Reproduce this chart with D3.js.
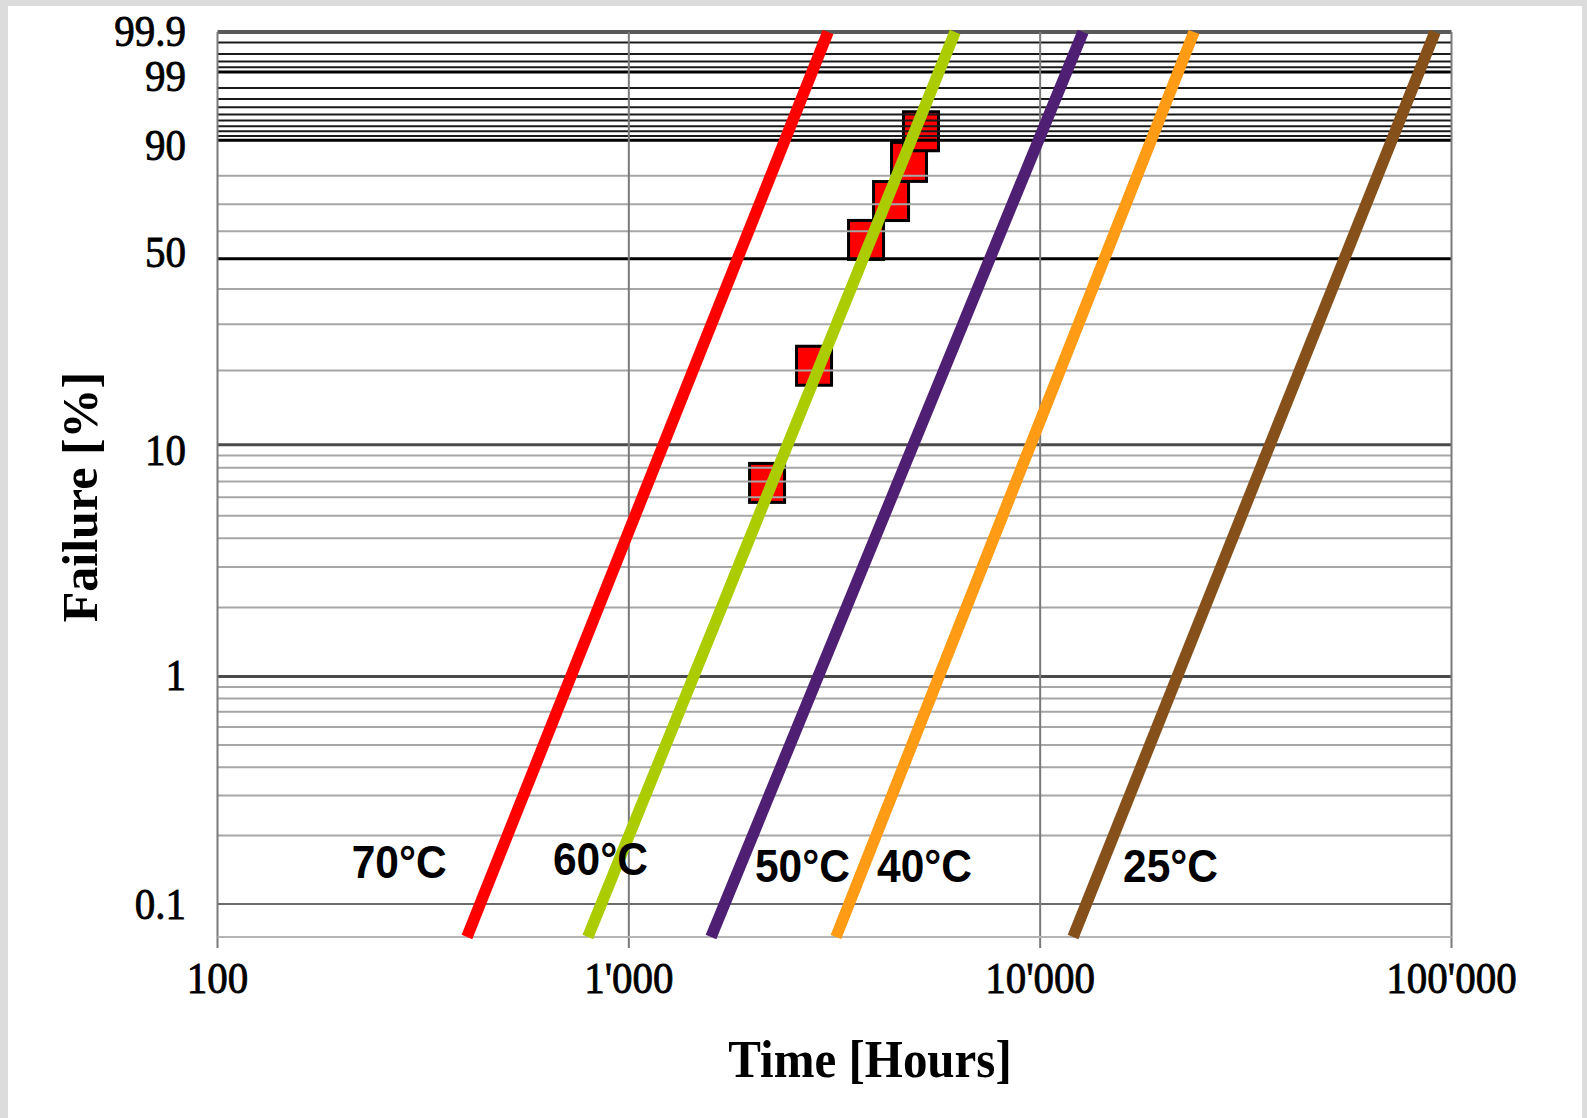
<!DOCTYPE html>
<html>
<head>
<meta charset="utf-8">
<script src="https://cdn.jsdelivr.net/npm/d3@7"></script>
<style>
  body { margin: 0; background: #dcdcdc; }
  svg { display: block; }
</style>
</head>
<body>
<div class="chart"></div>
<script>
// fitted Weibull lines: hours at the bottom edge (0.0716 %) and at 99.9 %
var seriesNames = ["70°C", "60°C", "50°C", "40°C", "25°C"];
var seriesColors = ["#ff0000", "#aacc00", "#4e1f72", "#ff9b14", "#85501a"];
var endPct = [0.0716, 99.9];
var hoursLow = [404, 795, 1584, 3188, 12020];
var hoursHigh = [3050, 6210, 12710, 23660, 91200];

// measured points (red squares)
var pointHours = [2168, 2820, 3773, 4340, 4799, 5132];
var pointPct = [6.9, 20.9, 56.8, 71.2, 84.3, 92.0];

// where the temperature labels start
var labelHours = [212, 654, 2026, 4012, 15900];
var labelPct = [0.130, 0.134, 0.125, 0.125, 0.125];

// axes
var xTicks = [100, 1000, 10000, 100000];
var xTickLabels = ["100", "1'000", "10'000", "100'000"];
var yTicks = [0.1, 1, 10, 50, 90, 99, 99.9];
var yTickLabels = ["0.1", "1", "10", "50", "90", "99", "99.9"];
var yMinor = [0.2, 0.3, 0.4, 0.5, 0.6, 0.7, 0.8, 0.9,
              2, 3, 4, 5, 6, 7, 8, 9,
              20, 30, 40, 60, 70, 80,
              91, 92, 93, 94, 95, 96, 97, 98,
              99.2, 99.4, 99.6, 99.8];

var W = 1587, H = 1118;
var pLeft = 217.5, pRight = 1451.5, pTop = 32, pBottom = 937;

var svg = d3.select(".chart").append("svg")
    .attr("width", W)
    .attr("height", H);

// white sheet inside the grey frame
svg.append("rect")
    .attr("x", 8).attr("y", 6)
    .attr("width", W - 13).attr("height", H - 6)
    .attr("fill", "#ffffff");

// Weibull probability paper: ln(-ln(1-F))
function weib(p) { return Math.log(-Math.log(1 - p / 100)); }

var x = d3.scaleLog().domain([100, 100000]).range([pLeft, pRight]);
var yW = d3.scaleLinear().domain([weib(endPct[0]), weib(99.9)]).range([pBottom, pTop]);
var y = function(p) { return yW(weib(p)); };

var plot = svg.append("g");

// squares go under the grid
plot.append("g").selectAll("rect")
    .data(pointHours)
    .enter().append("rect")
    .attr("x", function(d) { return x(d) - 17.5; })
    .attr("y", function(d, i) { return y(pointPct[i]) - 19.5; })
    .attr("width", 35)
    .attr("height", 39)
    .attr("fill", "#ff0000")
    .attr("stroke", "#000")
    .attr("stroke-width", 3);

// minor horizontal grid
plot.append("g").selectAll("line")
    .data(yMinor)
    .enter().append("line")
    .attr("x1", pLeft).attr("x2", pRight)
    .attr("y1", function(d) { return y(d); })
    .attr("y2", function(d) { return y(d); })
    .attr("stroke", function(d) { return d > 90 ? "#1a1a1a" : "#a6a6a6"; })
    .attr("stroke-width", 2);

// major horizontal grid
plot.append("g").selectAll("line")
    .data(yTicks)
    .enter().append("line")
    .attr("x1", pLeft).attr("x2", pRight)
    .attr("y1", function(d) { return y(d); })
    .attr("y2", function(d) { return y(d); })
    .attr("stroke", function(d) {
        if (d === 0.1) return "#6a6a6a";
        if (d === 1 || d === 10) return "#4a4a4a";
        if (d === 99.9) return "#5a5a5a";
        return "#000";
    })
    .attr("stroke-width", function(d) { return d === 0.1 ? 2 : (d === 99.9 ? 4 : 3); });

// vertical grid + ticks
plot.append("g").selectAll("line")
    .data(xTicks)
    .enter().append("line")
    .attr("x1", function(d) { return x(d); })
    .attr("x2", function(d) { return x(d); })
    .attr("y1", pTop)
    .attr("y2", pBottom + 11)
    .attr("stroke", "#7a7a7a")
    .attr("stroke-width", 2);

// bottom edge
plot.append("line")
    .attr("x1", pLeft).attr("x2", pRight)
    .attr("y1", pBottom).attr("y2", pBottom)
    .attr("stroke", "#b4b4b4")
    .attr("stroke-width", 2);

// series lines
var line = d3.line()
    .x(function(d) { return x(d.t); })
    .y(function(d) { return y(d.p); });

plot.append("g").selectAll("path")
    .data(seriesNames)
    .enter().append("path")
    .attr("d", function(d, i) {
        return line([{t: hoursLow[i], p: endPct[0]}, {t: hoursHigh[i], p: endPct[1]}]);
    })
    .attr("fill", "none")
    .attr("stroke", function(d, i) { return seriesColors[i]; })
    .attr("stroke-width", 11.5);

// temperature labels
svg.append("g").selectAll("text")
    .data(seriesNames)
    .enter().append("text")
    .attr("transform", function(d, i) {
        return "translate(" + x(labelHours[i]) + "," + y(labelPct[i]) + ") scale(1,1.1)";
    })
    .attr("font-family", "'Liberation Sans', Arial, sans-serif")
    .attr("font-size", 42.5)
    .attr("font-weight", "bold")
    .attr("fill", "#000")
    .text(function(d) { return d; });

// x tick labels
svg.append("g").selectAll("text")
    .data(xTicks)
    .enter().append("text")
    .attr("transform", function(d) { return "translate(" + x(d) + ",993) scale(1,1.08)"; })
    .attr("text-anchor", "middle")
    .attr("font-family", "'Liberation Serif', 'Times New Roman', serif")
    .attr("font-size", 41)
    .attr("stroke", "#000")
    .attr("stroke-width", 0.8)
    .text(function(d, i) { return xTickLabels[i]; });

// y tick labels (the original sits them a few px off their lines)
var yNudge = {"0.1": 1, "1": 0, "10": 6, "50": -6, "90": 6, "99": 5, "99.9": 0};
svg.append("g").selectAll("text")
    .data(yTicks)
    .enter().append("text")
    .attr("transform", function(d, i) {
        return "translate(186," + (y(d) + 14 + yNudge[yTickLabels[i]]) + ") scale(1,1.08)";
    })
    .attr("text-anchor", "end")
    .attr("font-family", "'Liberation Serif', 'Times New Roman', serif")
    .attr("font-size", 41)
    .attr("stroke", "#000")
    .attr("stroke-width", 0.8)
    .text(function(d, i) { return yTickLabels[i]; });

// axis titles
svg.append("text")
    .attr("transform", "translate(870,1077) scale(1,1.08)")
    .attr("text-anchor", "middle")
    .attr("font-family", "'Liberation Serif', 'Times New Roman', serif")
    .attr("font-size", 49)
    .attr("font-weight", "bold")
    .text("Time [Hours]");

svg.append("text")
    .attr("transform", "translate(97,497) rotate(-90)")
    .attr("text-anchor", "middle")
    .attr("font-family", "'Liberation Serif', 'Times New Roman', serif")
    .attr("font-size", 50)
    .attr("font-weight", "bold")
    .text("Failure [%]");
</script>
</body>
</html>
